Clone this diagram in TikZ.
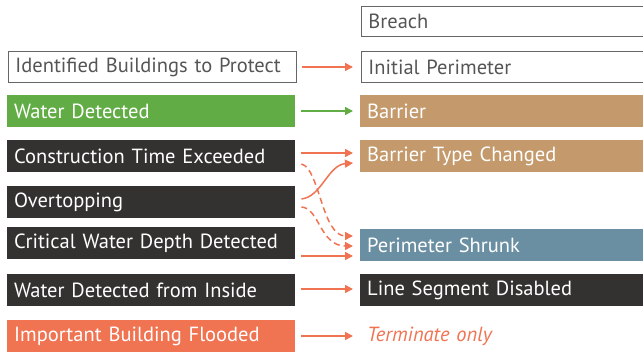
\documentclass[tikz,border=0pt]{standalone}
\usepackage{fontspec}
\setmainfont{PT Sans}
\usetikzlibrary{arrows.meta,calc}
\definecolor{cgreen}{HTML}{62AC46}
\definecolor{cdark}{HTML}{333231}
\definecolor{ctan}{HTML}{C49A6C}
\definecolor{cblue}{HTML}{6B8FA2}
\definecolor{corange}{HTML}{F07352}
\definecolor{cgrayb}{HTML}{666666}
\definecolor{cgrayt}{HTML}{555555}
\tikzset{
  box/.style={rectangle, anchor=west, minimum height=32pt, text width=274pt,
    inner xsep=7pt, inner ysep=0pt, align=left, font=\fontsize{20.5}{22}\selectfont},
  outl/.style={box, draw=cgrayb, line width=1.4pt, text=cgrayt, minimum height=30.5pt},
  filld/.style={box, fill=#1, text=white},
  conn/.style={line width=1.5pt, -{Triangle[length=8pt,width=8pt]}},
  dconn/.style={conn, dash pattern=on 6pt off 4pt}
}
\begin{document}
\begin{tikzpicture}[x=1pt,y=-1pt]
\useasboundingbox (0,0) rectangle (643,355);
\clip (0,0) rectangle (643,355);
% left
\node[outl] (ibp) at (7.7,67) {Identified Buildings to Protect};
\node[filld=cgreen] (wd) at (7,111) {Water Detected};
\node[filld=cdark] (cte) at (7,156) {Construction Time Exceeded};
\node[filld=cdark] (ovt) at (7,202) {Overtopping};
\node[filld=cdark] (cwd) at (7,243.5) {Critical Water Depth Detected};
\node[filld=cdark] (wdi) at (7,290) {Water Detected from Inside};
\node[filld=corange] (ibf) at (7,336) {Important Building Flooded};
% right
\node[outl] (br) at (360.7,21.5) {Breach};
\node[outl] (ip) at (360.7,67) {Initial Perimeter};
\node[filld=ctan] (bar) at (360,111) {Barrier};
\node[filld=ctan] (btc) at (360,156) {Barrier Type Changed};
\node[filld=cblue] (ps) at (360,245) {Perimeter Shrunk};
\node[filld=cdark] (lsd) at (360,290) {Line Segment Disabled};
\node[box, text=corange, font=\fontsize{20.5}{22}\selectfont\itshape] (to) at (360,336) {Terminate only};
% connectors
\draw[conn, corange] ($(ibp.east)+(5.3,0)$) -- ($(ip.west)+(-7.7,0)$);
\draw[conn, cgreen] ($(wd.east)+(6,0)$) -- ($(bar.west)+(-7,0)$);
\draw[conn, corange] ($(cte.east)+(6,-3)$) -- ($(btc.west)+(-7,-3)$);
\draw[conn, corange] ($(ovt.east)+(6,-3)$) .. controls ($(ovt.east)+(26,-5)$) and ($(btc.west)+(-32,9)$) .. ($(btc.west)+(-7,7)$);
\draw[dconn, corange] ($(cte.east)+(6,8)$) .. controls ($(cte.east)+(24,12)$) and ($(ps.west)+(-38,-9)$) .. ($(ps.west)+(-7,-9)$);
\draw[dconn, corange] ($(ovt.east)+(6,5)$) .. controls ($(ovt.east)+(24,6)$) and ($(ps.west)+(-40,1)$) .. ($(ps.west)+(-7,1)$);
\draw[conn, corange] ($(cwd.east)+(6,12.5)$) -- ($(ps.west)+(-7,11)$);
\draw[conn, corange] ($(wdi.east)+(6,-1)$) -- ($(lsd.west)+(-7,-1)$);
\draw[conn, corange] ($(ibf.east)+(6,0)$) -- ($(to.west)+(-7,0)$);
\end{tikzpicture}
\end{document}
